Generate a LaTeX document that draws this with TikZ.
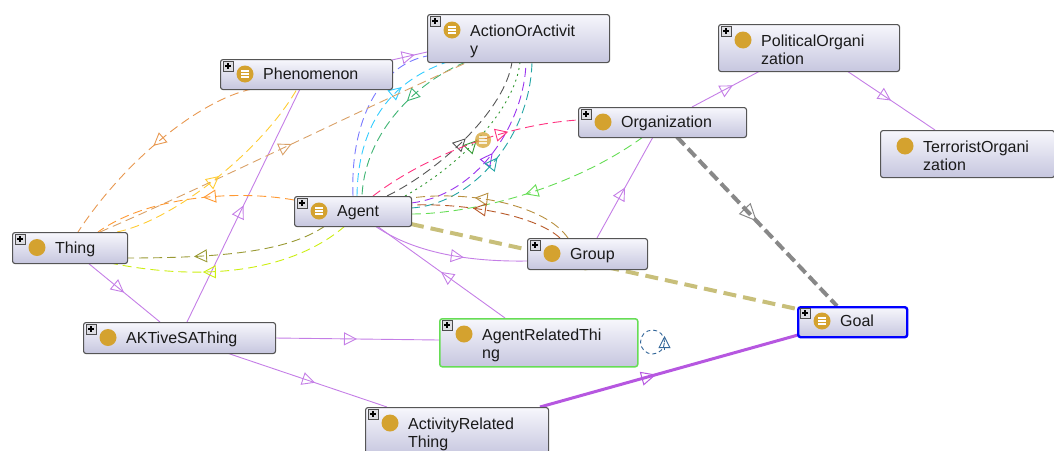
\documentclass[tikz,border=0pt]{standalone}
\usepackage{fontspec}
\setmainfont{Liberation Sans}
\usetikzlibrary{arrows.meta,decorations.markings,calc}
\definecolor{boxtop}{HTML}{F7F7FC}
\definecolor{boxbot}{HTML}{C6C6DF}
\definecolor{boxline}{HTML}{555555}
\definecolor{gold}{HTML}{D4A22F}
\definecolor{isa}{HTML}{C47EE6}
\definecolor{isathick}{HTML}{B657E0}
\definecolor{cgray}{HTML}{888888}
\definecolor{ckhakithick}{HTML}{C8BF7A}
\definecolor{cblue}{HTML}{7B7BFF}
\definecolor{ccyan}{HTML}{33CCFF}
\definecolor{cgreen}{HTML}{3CB371}
\definecolor{ctan}{HTML}{D9A066}
\definecolor{corange}{HTML}{E89850}
\definecolor{corange2}{HTML}{FF9933}
\definecolor{cyellow}{HTML}{FFCC33}
\definecolor{cdark}{HTML}{555555}
\definecolor{cdotgreen}{HTML}{339933}
\definecolor{cpurple}{HTML}{9933EE}
\definecolor{cteal}{HTML}{22A5A5}
\definecolor{cpink}{HTML}{FF3380}
\definecolor{clgreen}{HTML}{66DD55}
\definecolor{ckhaki}{HTML}{B89040}
\definecolor{crust}{HTML}{B85A2A}
\definecolor{colive}{HTML}{999933}
\definecolor{cyg}{HTML}{CCEE11}
\definecolor{cloop}{HTML}{336699}
\definecolor{txt}{HTML}{1A1A1A}
\pgfdeclarelayer{edges}
\pgfsetlayers{edges,main}
\newcommand{\pbox}[1]{%
  \draw[fill=blue!8!gray!25,draw=black!70,line width=0.6pt] ([shift={(3,2)}]#1.north west) rectangle ([shift={(13,12)}]#1.north west);
  \draw[line width=1.1pt] ([shift={(5,7)}]#1.north west) -- ([shift={(11,7)}]#1.north west)
    ([shift={(8,4)}]#1.north west) -- ([shift={(8,10)}]#1.north west);}
\newcommand{\cls}[2]{\fill[gold] ([shift={(25,#2)}]#1.north west) circle (8.5pt);}
\newcommand{\eqv}[2]{\cls{#1}{#2}%
  \draw[white,line width=1.1pt] ([shift={(21,#2-3)}]#1.north west) -- ([shift={(29,#2-3)}]#1.north west)
    ([shift={(21,#2)}]#1.north west) -- ([shift={(29,#2)}]#1.north west)
    ([shift={(21,#2+3)}]#1.north west) -- ([shift={(29,#2+3)}]#1.north west);}
\begin{document}
\begin{tikzpicture}[x=1pt,y=-1pt,
  box/.style={draw=boxline,line width=1.1pt,rounded corners=2.5pt,top color=boxtop,bottom color=boxbot,anchor=north west,inner sep=0pt},
  lbl/.style={font=\fontsize{16}{18}\selectfont,text=txt,inner sep=0pt,anchor=base west},
  ed/.style={line width=0.9pt},
  dsh/.style={ed,dash pattern=on 9pt off 5pt},
  ma/.style={postaction={decorate},decoration={markings,mark=at position #1 with {\arrow{Triangle[open,length=13pt,width=13pt,line width=0.9pt]}}}},
  ma/.default=0.5,
  mabig/.style={postaction={decorate},decoration={markings,mark=at position #1 with {\arrow{Triangle[open,length=18pt,width=16pt,line width=1pt]}}}},
  mabig/.default=0.5
]
\useasboundingbox (0,0) rectangle (1054,450);
% nodes
\node[box,minimum width=182pt,minimum height=48pt] (act) at (427,14) {};
\node[box,minimum width=172pt,minimum height=30pt] (phen) at (220,59) {};
\node[box,minimum width=181pt,minimum height=47pt] (pol) at (718,24) {};
\node[box,minimum width=168pt,minimum height=30pt] (org) at (578,107) {};
\node[box,minimum width=174pt,minimum height=47pt] (terr) at (880,130) {};
\node[box,minimum width=117pt,minimum height=30pt] (agent) at (294,196) {};
\node[box,minimum width=115pt,minimum height=31pt] (thing) at (12,232) {};
\node[box,minimum width=120pt,minimum height=31pt] (group) at (527,238) {};
\node[box,minimum width=192pt,minimum height=31pt] (aktive) at (83,322) {};
\node[box,draw=clgreen,line width=1.5pt,minimum width=198pt,minimum height=48pt] (art) at (439,318) {};
\node[box,draw=blue,line width=2.4pt,minimum width=109pt,minimum height=30pt] (goal) at (797,306) {};
\node[box,minimum width=183pt,minimum height=48pt] (actrel) at (365,407) {};
% icons
\pbox{act}\eqv{act}{16}
\pbox{phen}\eqv{phen}{15}
\pbox{pol}\cls{pol}{16}
\pbox{org}\cls{org}{15}
\cls{terr}{16}
\pbox{agent}\eqv{agent}{15}
\pbox{thing}\cls{thing}{15.5}
\pbox{group}\cls{group}{15.5}
\pbox{aktive}\cls{aktive}{15.5}
\pbox{art}\cls{art}{16}
\pbox{goal}\eqv{goal}{15}
\pbox{actrel}\cls{actrel}{16}
% labels
\node[lbl] (act-t) at ([shift={(43,22)}]act.north west) {\begin{tabular}[t]{@{}l@{}}ActionOrActivit\\y\end{tabular}};
\node[lbl] (phen-t) at ([shift={(43,20.5)}]phen.north west) {Phenomenon};
\node[lbl] (pol-t) at ([shift={(43,22)}]pol.north west) {\begin{tabular}[t]{@{}l@{}}PoliticalOrgani\\zation\end{tabular}};
\node[lbl] (org-t) at ([shift={(43,20.5)}]org.north west) {Organization};
\node[lbl] (terr-t) at ([shift={(43,22)}]terr.north west) {\begin{tabular}[t]{@{}l@{}}TerroristOrgani\\zation\end{tabular}};
\node[lbl] (agent-t) at ([shift={(43,20.5)}]agent.north west) {Agent};
\node[lbl] (thing-t) at ([shift={(43,21)}]thing.north west) {Thing};
\node[lbl] (group-t) at ([shift={(43,21)}]group.north west) {Group};
\node[lbl] (aktive-t) at ([shift={(43,21)}]aktive.north west) {AKTiveSAThing};
\node[lbl] (art-t) at ([shift={(43,22)}]art.north west) {\begin{tabular}[t]{@{}l@{}}AgentRelatedThi\\ng\end{tabular}};
\node[lbl] (goal-t) at ([shift={(43,20.5)}]goal.north west) {Goal};
\node[lbl] (actrel-t) at ([shift={(43,22)}]actrel.north west) {\begin{tabular}[t]{@{}l@{}}ActivityRelated\\Thing\end{tabular}};
% floating icon
\node[circle,fill=gold,opacity=0.75,minimum size=16pt,inner sep=0pt] (ghost) at (483,140) {};
\draw[white,line width=1.1pt,opacity=0.8] ([shift={(-4,-3)}]ghost.center) -- ([shift={(4,-3)}]ghost.center)
  ([shift={(-4,0)}]ghost.center) -- ([shift={(4,0)}]ghost.center)
  ([shift={(-4,3)}]ghost.center) -- ([shift={(4,3)}]ghost.center);
\begin{pgfonlayer}{edges}
% solid is-a edges
\draw[ed,isa,ma] ([shift={(76,31)}]thing.north west) -- ([shift={(77,0)}]aktive.north west);
\draw[ed,isa,ma] ([shift={(104,0)}]aktive.north west) -- ([shift={(80,30)}]phen.north west);
\draw[ed,isa,ma] ([shift={(192,16)}]aktive.north west) -- ([shift={(0,22)}]art.north west);
\draw[ed,isa,ma=0.55] ([shift={(144,31)}]aktive.north west) -- ([shift={(22,0)}]actrel.north west);
\draw[ed,isa,ma=0.6] ([shift={(81,30)}]agent.north west) .. controls (410,250) and (460,262) .. ([shift={(0,23)}]group.north west);
\draw[ed,isa,ma] ([shift={(66,0)}]art.north west) -- ([shift={(83,30)}]agent.north west);
\draw[ed,isa,ma] ([shift={(70,0)}]group.north west) -- ([shift={(75,30)}]org.north west);
\draw[ed,isa,ma=0.6] ([shift={(114,0)}]org.north west) -- ([shift={(42,47)}]pol.north west);
\draw[ed,isa,ma] ([shift={(129,47)}]pol.north west) -- ([shift={(55,0)}]terr.north west);
\draw[ed,isa,ma=0.65] ([shift={(172,1)}]phen.north west) -- ([shift={(0,38)}]act.north west);
\draw[isathick,line width=3pt,postaction={decorate},decoration={markings,mark=at position 0.45 with {\arrow{Triangle[open,length=15pt,width=14pt,line width=1pt]}}}] ([shift={(175,0)}]actrel.north west) -- ([shift={(1,29)}]goal.north west);
% thick dashed
\draw[cgray,line width=4pt,dash pattern=on 11pt off 5pt,mabig] ([shift={(99,30)}]org.north west) -- ([shift={(40,0)}]goal.north west);
\draw[ckhakithick,line width=4pt,dash pattern=on 13pt off 7pt,mabig] ([shift={(117,28)}]agent.north west) -- ([shift={(0,3)}]goal.north west);
% dashed curves, Agent - ActionOrActivity
\draw[dsh,cblue] ([shift={(59,0)}]agent.north west) .. controls (350,120) and (380,65) .. ([shift={(0,42)}]act.north west);
\draw[dsh,ccyan,ma=0.7] ([shift={(63,0)}]agent.north west) .. controls (358,120) and (395,80) .. ([shift={(20,48)}]act.north west);
\draw[dsh,cgreen,ma=0.4] ([shift={(39,48)}]act.north west) .. controls (420,80) and (365,130) .. ([shift={(68,0)}]agent.north west);
\draw[dsh,cdark,ma=0.52] ([shift={(93,0)}]agent.north west) .. controls (440,170) and (505,110) .. ([shift={(85,48)}]act.north west);
\draw[ed,cdotgreen,dash pattern=on 2pt off 4pt,ma=0.5] ([shift={(111,0)}]agent.north west) .. controls (460,165) and (515,110) .. ([shift={(93,48)}]act.north west);
\draw[dsh,cpurple,ma=0.5] ([shift={(117,7)}]agent.north west) .. controls (480,195) and (525,120) .. ([shift={(99,48)}]act.north west);
\draw[dsh,cteal,ma=0.5] ([shift={(117,12)}]agent.north west) .. controls (470,205) and (530,140) .. ([shift={(105,48)}]act.north west);
% Agent - Organization / Group
\draw[dsh,cpink,ma=0.68] ([shift={(79,0)}]agent.north west) .. controls (420,160) and (500,125) .. ([shift={(0,13)}]org.north west);
\draw[dsh,clgreen,ma=0.53] ([shift={(65,30)}]org.north west) .. controls (570,190) and (470,214) .. ([shift={(117,18)}]agent.north west);
\draw[dsh,ckhaki,ma=0.62] ([shift={(41,0)}]group.north west) .. controls (545,205) and (470,190) .. ([shift={(117,2)}]agent.north west);
\draw[dsh,crust,ma=0.6] ([shift={(33,0)}]group.north west) .. controls (535,215) and (465,203) .. ([shift={(117,9)}]agent.north west);
% Thing related
\draw[dsh,ctan,ma=0.52] ([shift={(88,0)}]thing.north west) .. controls (220,180) and (360,110) .. ([shift={(41,48)}]act.north west);
\draw[dsh,corange,ma=0.5] ([shift={(32,30)}]phen.north west) .. controls (200,100) and (125,160) .. ([shift={(66,0)}]thing.north west);
\draw[dsh,cyellow,ma=0.5] ([shift={(105,0)}]thing.north west) .. controls (175,220) and (262,150) .. ([shift={(77,30)}]phen.north west);
\draw[dsh,corange2,ma=0.45] ([shift={(0,4)}]agent.north west) .. controls (240,190) and (150,195) .. ([shift={(86,0)}]thing.north west);
\draw[dsh,colive,ma=0.67] ([shift={(31,30)}]agent.north west) .. controls (290,250) and (230,258) .. ([shift={(115,26)}]thing.north west);
\draw[dsh,cyg,ma=0.62] ([shift={(51,30)}]agent.north west) .. controls (300,265) and (220,285) .. ([shift={(98,31)}]thing.north west);
% self loop on AgentRelatedThing
\draw[cloop,line width=0.9pt,dash pattern=on 4pt off 3pt] ([shift={(14,24)}]art.north east) circle (12pt);
\draw[cloop,line width=0.9pt,-{Triangle[open,length=12pt,width=12pt]}] ([shift={(26,32)}]art.north east) -- ([shift={(26,18)}]art.north east);
\end{pgfonlayer}
\end{tikzpicture}
\end{document}
